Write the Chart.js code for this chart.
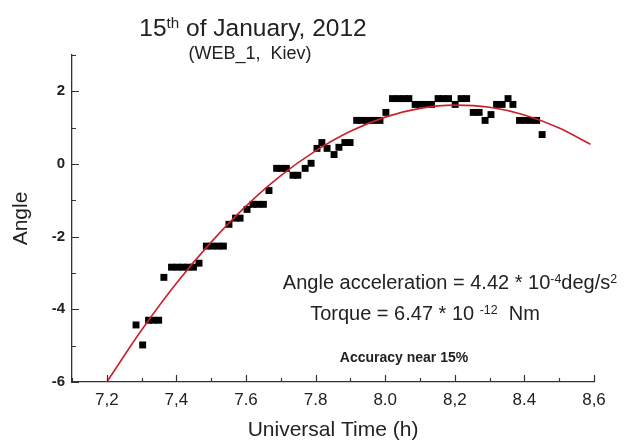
<!DOCTYPE html>
<html>
<head>
<meta charset="utf-8">
<script src="https://cdn.jsdelivr.net/npm/chart.js@4.4.1/dist/chart.umd.min.js"></script>
<style>
  html, body { margin: 0; padding: 0; background: #fff; }
  #wrap { position: relative; width: 624px; height: 445px; font-family: 'Liberation Sans', Arial, sans-serif; color: #222; }
  #wrap canvas { position: absolute; left: 0; top: 0; }
  .txt { position: absolute; white-space: nowrap; line-height: 1; text-align: center; transform: translateX(-50%); }
  .sup { position: relative; top: -0.5em; font-size: 0.62em; }
</style>
</head>
<body>
<div id="wrap">
  <canvas id="angleChart" width="624" height="445"></canvas>
  <div class="txt" style="left:253px; top:16px; font-size:24.5px;">15<span class="sup">th</span> of January, 2012</div>
  <div class="txt" style="left:250px; top:44px; font-size:18px;">(WEB_1,&nbsp; Kiev)</div>
  <div class="txt" style="left:450px; top:272px; font-size:20px;">Angle acceleration = 4.42 * 10<span class="sup">-4</span>deg/s<span class="sup">2</span></div>
  <div class="txt" style="left:425px; top:303px; font-size:20px;">Torque = 6.47 * 10 <span class="sup">-12</span>&nbsp; Nm</div>
  <div class="txt" style="left:404px; top:350px; font-size:14px; font-weight:bold;">Accuracy near 15%</div>
</div>
<script>
// ── Data ─────────────────────────────────────────────────────────
const timeH = [7.284, 7.303, 7.320, 7.334, 7.349, 7.364, 7.386, 7.402, 7.418, 7.433,
  7.449, 7.465, 7.486, 7.502, 7.520, 7.535, 7.551, 7.570, 7.583, 7.603,
  7.620, 7.634, 7.650, 7.666, 7.688, 7.702, 7.716, 7.735, 7.749, 7.770,
  7.787, 7.804, 7.818, 7.833, 7.853, 7.867, 7.884, 7.899, 7.918, 7.933,
  7.951, 7.968, 7.985, 8.002, 8.021, 8.037, 8.054, 8.068, 8.086, 8.100,
  8.117, 8.133, 8.152, 8.166, 8.182, 8.201, 8.218, 8.234, 8.253, 8.270,
  8.287, 8.304, 8.320, 8.336, 8.353, 8.367, 8.386, 8.402, 8.419, 8.435, 8.451];
const angle = [-4.43, -4.98, -4.30, -4.30, -4.30, -3.12, -2.84, -2.84, -2.84, -2.84,
  -2.84, -2.73, -2.26, -2.26, -2.26, -2.26, -1.66, -1.49, -1.49, -1.25,
  -1.11, -1.11, -1.11, -0.73, -0.12, -0.12, -0.12, -0.31, -0.31, -0.12,
  0.02, 0.43, 0.59, 0.43, 0.26, 0.46, 0.59, 0.59, 1.20, 1.20,
  1.20, 1.20, 1.20, 1.42, 1.80, 1.80, 1.80, 1.80, 1.64, 1.64,
  1.64, 1.64, 1.80, 1.80, 1.80, 1.64, 1.80, 1.80, 1.42, 1.42,
  1.20, 1.36, 1.64, 1.64, 1.80, 1.64, 1.20, 1.20, 1.20, 1.20, 0.81];

// fitted curve
const fitT     = [7.2, 7.3, 7.4, 7.5, 7.6, 7.7, 7.8, 7.9, 8.0, 8.1, 8.2, 8.3, 8.4, 8.5, 8.59];
const fitAngle = [-6.0, -4.57, -3.28, -2.15, -1.16, -0.32, 0.36, 0.90, 1.29, 1.53, 1.62, 1.56, 1.35, 0.99, 0.54];

const xTickLabels = ['7,2', '7,4', '7.6', '7.8', '8.0', '8,2', '8.4', '8,6'];
const yTickLabels = ['-6', '-4', '-2', '0', '2'];

// ── Defaults ─────────────────────────────────────────────────────
Chart.defaults.font.family = "'Liberation Sans', Arial, sans-serif";
Chart.defaults.color = '#222';

function xLabel(v) {
  const n = Math.round(v * 10);
  return n % 2 === 0 ? (xTickLabels[(n - 72) / 2] || '') : '';
}
function yLabel(v) {
  const n = Math.round(v);
  return (n % 2 === 0) ? (yTickLabels[(n + 6) / 2] || '') : '';
}

// inward tick marks (major where there is a label)
const innerTicks = {
  id: 'innerTicks',
  afterDraw(chart) {
    const { ctx, chartArea, scales: { x, y } } = chart;
    ctx.save();
    ctx.strokeStyle = '#333';
    ctx.lineWidth = 1.2;
    ctx.beginPath();
    x.ticks.forEach(t => {
      const px = Math.round(x.getPixelForValue(t.value)) + 0.5;
      const len = xLabel(t.value) ? 7 : 4;
      ctx.moveTo(px, chartArea.bottom);
      ctx.lineTo(px, chartArea.bottom - len);
    });
    y.ticks.forEach(t => {
      const py = Math.round(y.getPixelForValue(t.value)) + 0.5;
      const len = yLabel(t.value) ? 7 : 4;
      ctx.moveTo(chartArea.left, py);
      ctx.lineTo(chartArea.left + len, py);
    });
    ctx.stroke();
    ctx.restore();
  }
};

// ── Chart ────────────────────────────────────────────────────────
new Chart(document.getElementById('angleChart'), {
  type: 'scatter',
  data: {
    datasets: [
      {
        label: 'Fit',
        type: 'line',
        data: fitT.map((t, i) => ({ x: t, y: fitAngle[i] })),
        borderColor: '#c8202c',
        borderWidth: 1.6,
        pointRadius: 0,
        cubicInterpolationMode: 'monotone',
        fill: false,
        order: 0
      },
      {
        label: 'Angle',
        data: timeH.map((t, i) => ({ x: t, y: angle[i] })),
        pointStyle: 'rect',
        pointRadius: 4.9,
        pointBorderWidth: 0,
        backgroundColor: '#000',
        borderColor: '#000',
        order: 1
      }
    ]
  },
  options: {
    responsive: false,
    animation: false,
    layout: { padding: { top: 55, right: 30, left: 0, bottom: 0 } },
    plugins: { legend: { display: false }, tooltip: { enabled: false } },
    scales: {
      x: {
        type: 'linear', min: 7.1, max: 8.6,
        grid: { display: false, drawTicks: false },
        border: { display: true, color: '#333', width: 1.3 },
        ticks: { stepSize: 0.1, autoSkip: false, maxRotation: 0, padding: 8,
                 font: { size: 17 }, callback: v => xLabel(v) },
        title: { display: true, text: 'Universal Time (h)', font: { size: 21 },
                 padding: { top: 0, bottom: 2 } },
        afterFit: s => { s.height = 63; }
      },
      y: {
        min: -6, max: 3,
        grid: { display: false, drawTicks: false },
        border: { display: true, color: '#333', width: 1.3 },
        ticks: { stepSize: 1, autoSkip: false, padding: 7,
                 font: { size: 15, weight: 'bold' }, callback: v => yLabel(v) },
        title: { display: true, text: 'Angle', font: { size: 21 },
                 padding: { top: 9, bottom: 0 } },
        afterFit: s => { s.width = 72; }
      }
    }
  },
  plugins: [innerTicks]
});
</script>
</body>
</html>
